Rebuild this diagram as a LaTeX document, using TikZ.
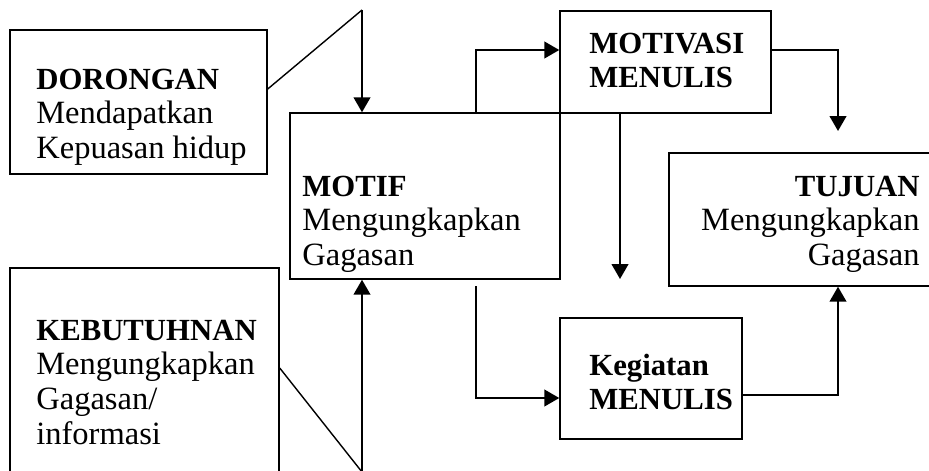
\documentclass[tikz,border=0pt]{standalone}
\usepackage{fontspec}
\setmainfont{Liberation Serif}
\usetikzlibrary{arrows.meta, calc, positioning}

\newcommand{\hd}[1]{{\fontsize{17.5}{19.9}\selectfont\bfseries #1}}

\tikzset{
  box/.style={draw, line width=0.85pt, inner sep=0pt},
  lbl/.style={inner sep=0pt, font=\fontsize{18.5}{19.9}\selectfont},
  arr/.style={line width=1.1pt, -{Triangle[length=8.5pt,width=9.5pt]}},
  lnk/.style={line width=0.8pt}
}

\begin{document}
\begin{tikzpicture}[x=0.02cm, y=-0.02cm]
    \clip (0,0) rectangle (929,470);
    % boxes
    \node[box, minimum width=5.14cm, minimum height=2.88cm] (dorongan) at (138.5,102) {};
    \node[box, minimum width=5.38cm, minimum height=4.24cm] (kebutuhan) at (144.5,374) {};
    \node[box, minimum width=5.4cm, minimum height=3.32cm] (motif) at (425,196) {};
    \node[box, minimum width=4.22cm, minimum height=2.04cm] (motivasi) at (665.5,62) {};
    \node[box, minimum width=5.32cm, minimum height=2.66cm] (tujuan) at (802,219.5) {};
    \node[box, minimum width=3.64cm, minimum height=2.42cm] (kegiatan) at (651,378.5) {};
    % texts
    \node[lbl, anchor=base west] (dorongantxt) at (36,89) {\begin{tabular}[t]{@{}l@{}}\hd{DORONGAN}\\Mendapatkan\\Kepuasan hidup\end{tabular}};
    \node[lbl, anchor=base west] (kebutuhantxt) at (36,340) {\begin{tabular}[t]{@{}l@{}}\hd{KEBUTUHNAN}\\Mengungkapkan\\Gagasan/\\informasi\end{tabular}};
    \node[lbl, anchor=base west] (motiftxt) at (302,196) {\begin{tabular}[t]{@{}l@{}}\hd{MOTIF}\\Mengungkapkan\\Gagasan\end{tabular}};
    \node[lbl, anchor=base west] (motivasitxt) at (589,53) {\begin{tabular}[t]{@{}l@{}}\hd{MOTIVASI}\\\hd{MENULIS}\end{tabular}};
    \node[lbl, anchor=base east] (tujuantxt) at (920,196) {\begin{tabular}[t]{@{}r@{}}\hd{TUJUAN}\\Mengungkapkan\\Gagasan\end{tabular}};
    \node[lbl, anchor=base west] (kegiatantxt) at (589,375) {\begin{tabular}[t]{@{}l@{}}\hd{Kegiatan}\\\hd{MENULIS}\end{tabular}};
    % connectors
    \coordinate (dtop) at (362,10);
    \coordinate (kbot) at (362,472);
    \coordinate (mup) at (476,113);
    \coordinate (mdown) at (620,279);
    \coordinate (tujtop) at (838,131);
    \coordinate (kstart) at (476,286);
    \draw[lnk] ($(dorongan.east)+(0,-13)$) -- (dtop);
    \draw[arr] (dtop) -- (dtop |- motif.north);
    \draw[lnk] ($(kebutuhan.east)+(0,-6)$) -- (kbot);
    \draw[arr] (kbot) -- (kbot |- motif.south);
    \draw[arr] (mup) |- ($(motivasi.west)+(0,-12)$);
    \draw[arr] ($(motivasi.east)+(0,-12)$) -| (tujtop);
    \draw[arr] (motivasi.south -| mdown) -- (mdown);
    \draw[arr] (kstart) |- ($(kegiatan.west)+(0,19.5)$);
    \draw[arr] ($(kegiatan.east)+(0,16.5)$) -| (tujuan.south -| tujtop);
\end{tikzpicture}
\end{document}
